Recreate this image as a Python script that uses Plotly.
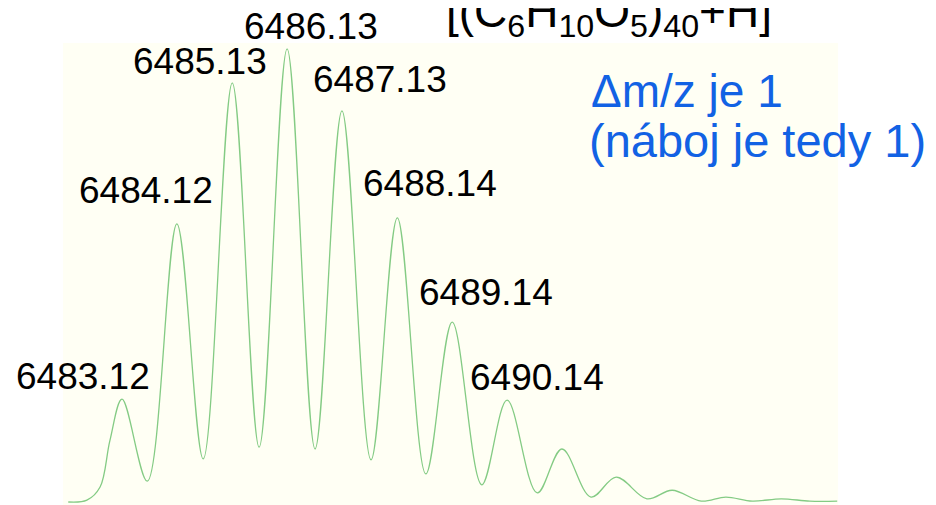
import plotly.graph_objects as go

# Spectrum profile (m/z, relative intensity %)
profile_mz = [6482.14, 6482.48, 6482.72, 6482.90, 6483.12, 6483.58, 6484.12, 6484.60,
              6485.13, 6485.62, 6486.13, 6486.64, 6487.13, 6487.66, 6488.14, 6488.66,
              6489.14, 6489.68, 6490.14, 6490.69, 6491.14, 6491.67, 6492.13, 6492.69,
              6493.15, 6493.68, 6494.13, 6494.61, 6495.14, 6495.66, 6496.16]
profile_int = [0.0, 0.4, 3.3, 13.6, 22.7, 4.6, 61.4, 9.5,
               92.5, 12.1, 100.0, 11.7, 86.3, 9.3, 62.7, 6.2,
               39.7, 3.8, 22.5, 2.0, 11.7, 1.1, 5.5, 0.7,
               2.6, 0.2, 1.1, 0.2, 0.7, 0.2, 0.2]

# Labelled peaks
peak_mz = [6483.12, 6484.12, 6485.13, 6486.13, 6487.13, 6488.14, 6489.14, 6490.14]
peak_int = [22.7, 61.4, 92.5, 100.0, 86.3, 62.7, 39.7, 22.5]
peak_labels = ["6483.12", "6484.12", "6485.13", "6486.13", "6487.13", "6488.14", "6489.14", "6490.14"]

formula_text = "[(C<sub>6</sub>H<sub>10</sub>O<sub>5</sub>)<sub>40</sub>+H]<sup>+</sup>"
note_line1 = "Δm/z je 1"
note_line2 = "(náboj je tedy 1)"
cut_text = "6000"

# styling offsets for labels (pixels)
label_dx = [-39, -31, -32, 24, 38, 33, 34, 30]
label_dy = [23, 33, 21, 22, 31, 34, 30, 23]

FONT = "Liberation Sans, Arial, sans-serif"

fig = go.Figure()
fig.add_trace(go.Scatter(
    x=profile_mz, y=profile_int, mode="lines",
    line=dict(color="#84CB84", width=1.3, shape="spline", smoothing=1.0),
    hoverinfo="skip", showlegend=False))

OFF = 8  # page body margin
W, H = 936 - OFF, 505 - OFF
L, T = 63 - OFF, 43 - OFF
R = W - (838 - OFF)
B = 0
pw, ph = W - L - R, H - T - B


def px(xp):
    return (xp - OFF - L) / pw


def py(yp):
    return (H - B - (yp - OFF)) / ph


annotations = []
for mz, it, lab, dx, dy in zip(peak_mz, peak_int, peak_labels, label_dx, label_dy):
    annotations.append(dict(x=mz, y=it, xref="x", yref="y", text=lab, showarrow=False,
                            xanchor="center", yanchor="middle", xshift=dx, yshift=dy,
                            font=dict(family=FONT, size=37, color="#000000")))

annotations.append(dict(x=px(444), y=py(27 - 0.3465 * 46), xref="paper", yref="paper",
                        text=formula_text, showarrow=False, xanchor="left", yanchor="middle",
                        font=dict(family=FONT, size=46, color="#000000")))
annotations.append(dict(x=px(131), y=py(1 - 0.3465 * 45), xref="paper", yref="paper",
                        text=cut_text, showarrow=False, xanchor="left", yanchor="middle",
                        font=dict(family=FONT, size=45, color="#000000")))
annotations.append(dict(x=px(589), y=py(107 - 0.3465 * 46), xref="paper", yref="paper",
                        text=note_line1, showarrow=False, xanchor="left", yanchor="middle",
                        font=dict(family=FONT, size=46, color="#1262E4")))
annotations.append(dict(x=px(587), y=py(157 - 0.3465 * 47), xref="paper", yref="paper",
                        text=note_line2, showarrow=False, xanchor="left", yanchor="middle",
                        font=dict(family=FONT, size=47, color="#1262E4")))

fig.update_layout(
    width=W, height=H,
    margin=dict(l=L, r=R, t=T, b=B, pad=0),
    paper_bgcolor="#FFFFFF",
    plot_bgcolor="#FFFFF4",
    xaxis=dict(range=[6482.044, 6496.174], visible=False, fixedrange=True),
    yaxis=dict(range=[-0.66, 101.3], visible=False, fixedrange=True),
    annotations=annotations,
    showlegend=False,
)

fig.write_html("out.html")
